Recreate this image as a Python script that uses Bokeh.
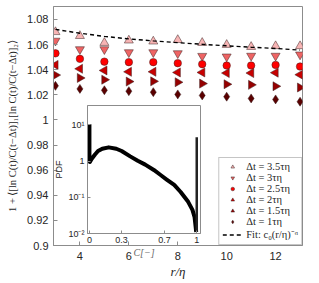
import math
from bokeh.plotting import figure
from bokeh.models import (Range1d, FixedTicker, Legend, LegendItem, CustomJSTickFormatter, GridBox)
from bokeh.embed import file_html
from bokeh.resources import INLINE

# ---------------- data ----------------
r_eta = [3, 4, 5, 6, 7, 8, 9, 10, 11, 12, 13]
vals_35 = [1.0700, 1.0669, 1.0614, 1.0633, 1.0625, 1.0637, 1.0614, 1.0598, 1.0582, 1.0588, 1.0588]
vals_3 = [1.0630, 1.0562, 1.0562, 1.0538, 1.0538, 1.0530, 1.0509, 1.0504, 1.0510, 1.0510, 1.0520]
vals_25 = [1.0530, 1.0486, 1.0464, 1.0460, 1.0460, 1.0452, 1.0444, 1.0433, 1.0433, 1.0438, 1.0425]
vals_2 = [1.0438, 1.0407, 1.0394, 1.0383, 1.0383, 1.0378, 1.0378, 1.0373, 1.0373, 1.0376, 1.0360]
vals_15 = [1.0357, 1.0334, 1.0320, 1.0305, 1.0307, 1.0300, 1.0289, 1.0284, 1.0279, 1.0268, 1.0258]
vals_1 = [1.0271, 1.0247, 1.0236, 1.0229, 1.0221, 1.0203, 1.0195, 1.0185, 1.0171, 1.0163, 1.0145]
fit_vals = [1.0721, 1.0690, 1.0665, 1.0645, 1.0629, 1.0615, 1.0602, 1.0590, 1.0579, 1.0569, 1.0556]

series_labels = ["Δt = 3.5τη", "Δt = 3τη", "Δt = 2.5τη", "Δt = 2τη", "Δt = 1.5τη", "Δt = 1τη"]
fit_label = "Fit: c₀(r/η)⁻ᵅ"

x_ticks = [4, 6, 8, 10, 12]
y_ticks = [0.9, 0.92, 0.94, 0.96, 0.98, 1.0, 1.02, 1.04, 1.06, 1.08]

# inset: PDF of C
pdf_c = [0.0, 0.0, 0.004, 0.02, 0.05, 0.08, 0.12, 0.18, 0.25, 0.30, 0.38, 0.45, 0.52,
         0.60, 0.66, 0.72, 0.79, 0.85, 0.92, 0.96, 0.98, 0.99, 0.995]
pdf_v = [10.5, 1.3, 0.95, 1.15, 1.5, 1.9, 2.2, 2.4, 2.2, 1.9, 1.35, 1.02, 0.8,
         0.57, 0.42, 0.31, 0.22, 0.14, 0.075, 0.045, 0.028, 0.015, 0.011]
spike_c = [1.0, 1.0]
spike_v = [0.011, 4.6]
inset_x_ticks = [0, 0.3, 0.7, 1]
inset_y_ticks = [0.01, 0.1, 1, 10]

# ---------------- style ----------------
AX = "#8c8c8c"
TXT = "#262626"
SANS = "Liberation Sans"
SERIF = "Liberation Serif"

fmt = CustomJSTickFormatter(code="return String(Math.round(tick*100)/100);")

p = figure(width=312, height=281, min_border_left=53, min_border_right=10,
           min_border_top=6, min_border_bottom=33, align="start",
           x_range=Range1d(2.92, 13.1), y_range=Range1d(0.9, 1.0903),
           output_backend="svg", toolbar_location=None)
p.grid.visible = False
p.outline_line_color = AX
p.background_fill_color = "white"
p.border_fill_color = "white"

for ax, ticks in ((p.xaxis[0], x_ticks), (p.yaxis[0], y_ticks)):
    ax.ticker = FixedTicker(ticks=ticks)
    ax.formatter = fmt
    ax.axis_line_color = AX
    ax.major_tick_line_color = AX
    ax.major_tick_in = 4
    ax.major_tick_out = 0
    ax.minor_tick_line_color = None
    ax.major_label_text_font = SANS
    ax.major_label_text_font_size = "11px"
    ax.major_label_text_color = TXT
    ax.major_label_standoff = 6
    ax.axis_label_text_font = SERIF
    ax.axis_label_text_font_style = "italic"
    ax.axis_label_text_color = TXT

p.xaxis[0].axis_label = "r/η"
p.xaxis[0].axis_label_text_font_size = "13px"
p.xaxis[0].axis_label_standoff = 1
p.yaxis[0].axis_label = "1 + ⟨[ln C(t)/C(t−Δt)]₁[ln C(t)/C(t−Δt)]₂⟩"
p.yaxis[0].axis_label_text_font_size = "10.5px"
p.yaxis[0].axis_label_text_font_style = "normal"
p.yaxis[0].axis_label_standoff = 6
p.yaxis[0].major_label_standoff = 5

colors = ["#f7b4b4", "#ee6464", "#ff0000", "#c80000", "#960000", "#5a0000"]
markers = ["triangle", "inverted_triangle", "circle", "triangle", "triangle", "diamond"]
angles = [0, 0, 0, math.pi / 2, -math.pi / 2, 0]
sizes = [9, 9, 7.5, 9, 9, 9]
all_vals = [vals_35, vals_3, vals_25, vals_2, vals_15, vals_1]

items = []
for vals, c, m, a, s, lab in zip(all_vals, colors, markers, angles, sizes, series_labels):
    r = p.scatter(r_eta, vals, marker=m, angle=a, size=s, fill_color=c,
                  line_color="#3a2020", line_width=0.5)
    items.append(LegendItem(label=lab, renderers=[r]))

fr = p.line(r_eta, fit_vals, line_color="black", line_dash="4 3", line_width=1.4)
items.append(LegendItem(label=fit_label, renderers=[fr]))

leg = Legend(items=items, location="bottom_right", margin=0, padding=3, spacing=0,
             glyph_width=20, glyph_height=9, label_height=9, label_standoff=4,
             label_text_font=SERIF, label_text_font_size="10.5px", label_text_color=TXT,
             border_line_color=AX, border_line_width=1, background_fill_alpha=1)
p.add_layout(leg)

# ---------------- inset ----------------
q = figure(width=176, height=170, min_border_left=34, min_border_right=4,
           min_border_top=4, min_border_bottom=26, align="start",
           x_range=Range1d(-0.018, 1.035), y_range=Range1d(0.01, 34.4), y_axis_type="log",
           output_backend="svg", toolbar_location=None, margin=(99, 0, 0, 34))
q.grid.visible = False
q.outline_line_color = AX
q.background_fill_color = "white"
q.border_fill_alpha = 0

log_fmt = CustomJSTickFormatter(code="""
const e = Math.round(Math.log10(tick));
if (e == 0) return "1";
const sup = {"-2": "⁻²", "-1": "⁻¹", "1": "¹", "2": "²"};
return "10" + sup[String(e)];
""")
q.xaxis[0].ticker = FixedTicker(ticks=inset_x_ticks)
q.xaxis[0].formatter = fmt
q.yaxis[0].ticker = FixedTicker(ticks=inset_y_ticks)
q.yaxis[0].formatter = log_fmt
for ax in (q.xaxis[0], q.yaxis[0]):
    ax.axis_line_color = AX
    ax.major_tick_line_color = AX
    ax.major_tick_in = 3
    ax.major_tick_out = 0
    ax.minor_tick_line_color = None
    ax.major_label_text_font = SANS
    ax.major_label_text_font_size = "9px"
    ax.major_label_text_color = TXT
    ax.major_label_standoff = 3
    ax.axis_label_text_color = "#666666"
    ax.axis_label_standoff = 1
q.xaxis[0].axis_label = "C[−]"
q.xaxis[0].axis_label_text_font = SERIF
q.xaxis[0].axis_label_text_font_style = "italic"
q.xaxis[0].axis_label_text_font_size = "10px"
q.yaxis[0].axis_label = "PDF"
q.yaxis[0].axis_label_text_font = SANS
q.yaxis[0].axis_label_text_font_style = "normal"
q.yaxis[0].axis_label_text_font_size = "9px"
q.yaxis[0].axis_label_text_color = TXT

q.line(pdf_c, pdf_v, line_color="black", line_width=4, line_join="round")
q.line(spike_c, spike_v, line_color="#222222", line_width=2.5)

layout = GridBox(children=[(p, 0, 0), (q, 0, 0)])
open("out.html", "w").write(file_html(layout, INLINE))
